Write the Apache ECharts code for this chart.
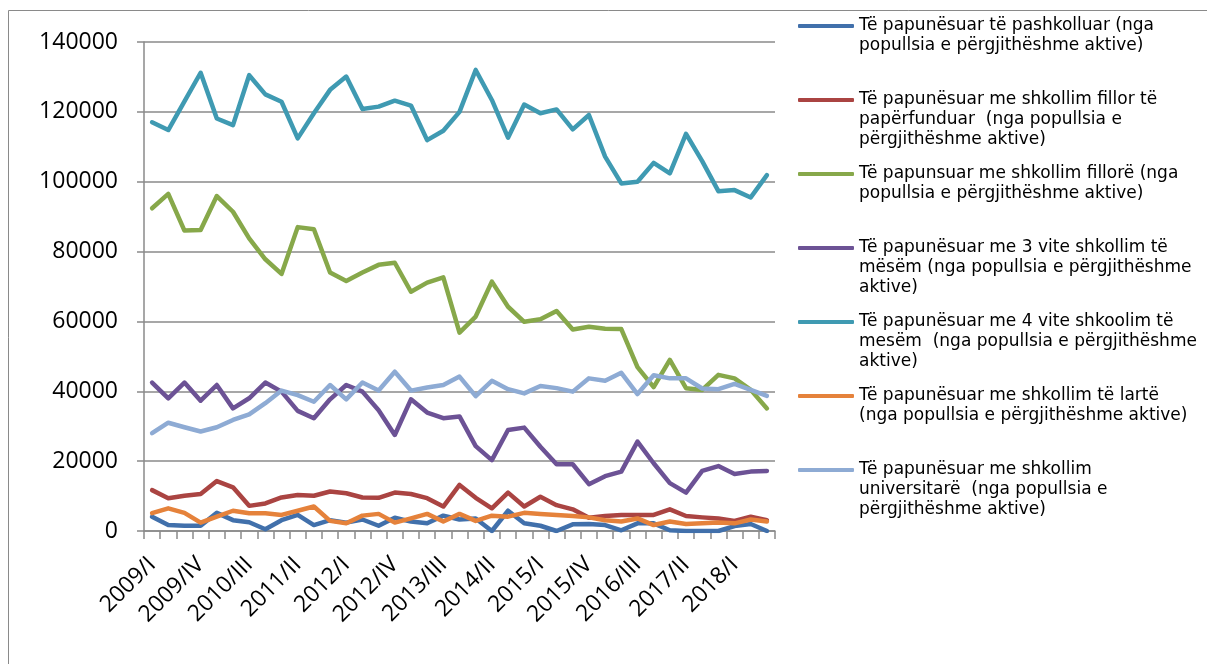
<!DOCTYPE html>
<html>
<head>
<meta charset="utf-8">
<title>Të papunësuar sipas arsimit</title>
<script src="https://cdn.jsdelivr.net/npm/echarts@6/dist/echarts.min.js"></script>
<style>
    html, body { margin: 0; padding: 0; background: #fff; }
    #mainChart { width: 1207px; height: 664px; }
</style>
</head>
<body>
<div id="mainChart"></div>
<script>
// ---- categories (quarters) ----
var quarters = [
    "2009/I", "2009/II", "2009/III", "2009/IV",
    "2010/I", "2010/II", "2010/III", "2010/IV",
    "2011/I", "2011/II", "2011/III", "2011/IV",
    "2012/I", "2012/II", "2012/III", "2012/IV",
    "2013/I", "2013/II", "2013/III", "2013/IV",
    "2014/I", "2014/II", "2014/III", "2014/IV",
    "2015/I", "2015/II", "2015/III", "2015/IV",
    "2016/I", "2016/II", "2016/III", "2016/IV",
    "2017/I", "2017/II", "2017/III", "2017/IV",
    "2018/I", "2018/II", "2018/III"
];

var yTicks = [0, 20000, 40000, 60000, 80000, 100000, 120000, 140000];

// ---- series values ----
var pashkolluar = [4100, 1700, 1500, 1500, 5200, 3100, 2500, 500, 3100, 4600, 1700, 3100, 2400, 3300, 1500, 3800, 2700, 2200, 4400, 3300,
    3600, 0, 5800, 2200, 1500, 0, 1900, 2000, 1700, 200, 2200, 2200, 200, 0, 0, 0, 1400, 2000, 0];
var fillorPaperfunduar = [11700, 9400, 10100, 10600, 14300, 12500, 7200, 7900, 9600, 10300, 10100, 11300, 10800, 9600, 9500, 11000, 10600, 9400, 7000, 13200,
    9500, 6500, 11000, 7000, 9800, 7400, 6200, 3800, 4300, 4600, 4600, 4600, 6200, 4300, 3900, 3600, 2900, 4100, 3100];
var fillore = [92400, 96500, 86000, 86200, 95900, 91400, 83800, 77800, 73600, 87000, 86400, 74000, 71600, 74000, 76200, 76800, 68500, 71100, 72600, 56800,
    61400, 71400, 64200, 59900, 60600, 63000, 57700, 58500, 57900, 57800, 46900, 41200, 49000, 40900, 40400, 44700, 43700, 40400, 35100];
var mesem3 = [42500, 38000, 42500, 37300, 41800, 35100, 38000, 42500, 39900, 34400, 32300, 37700, 41800, 39900, 34600, 27500, 37700, 33900, 32300, 32800,
    24300, 20300, 28900, 29600, 24100, 19100, 19100, 13400, 15700, 17000, 25600, 19400, 13700, 11000, 17200, 18600, 16300, 17000, 17200];
var mesem4 = [117000, 114800, 123000, 131200, 118100, 116200, 130500, 125000, 122900, 112400, 119600, 126300, 130100, 120800, 121500, 123200, 121800, 111900, 114600, 120000,
    132000, 123400, 112600, 122100, 119600, 120700, 115000, 119100, 107200, 99500, 100000, 105400, 102400, 113700, 105900, 97300, 97600, 95500, 101900];
var larte = [5100, 6500, 5200, 2400, 4100, 5800, 5100, 5100, 4600, 5800, 7000, 2900, 2200, 4400, 4900, 2400, 3600, 4900, 2700, 4900,
    2900, 4400, 4100, 5200, 4900, 4600, 4300, 3900, 3100, 2700, 3600, 1700, 2700, 2000, 2200, 2400, 2200, 3300, 2700];
var universitare = [28000, 31000, 29700, 28500, 29700, 31800, 33400, 36600, 40200, 38900, 37000, 41800, 37700, 42500, 40200, 45600, 40200, 41100, 41800, 44200,
    38600, 43000, 40600, 39400, 41500, 40900, 39900, 43700, 43000, 45300, 39200, 44600, 43700, 43700, 40800, 40600, 42100, 40400, 38700];

// ---- series names (legend text, with the original line breaks) ----
var seriesNames = [
    "Të papunësuar të pashkolluar (nga\npopullsia e përgjithëshme aktive)",
    "Të papunësuar me shkollim fillor të\npapërfunduar  (nga popullsia e\npërgjithëshme aktive)",
    "Të papunsuar me shkollim fillorë (nga\npopullsia e përgjithëshme aktive)",
    "Të papunësuar me 3 vite shkollim të\nmësëm (nga popullsia e përgjithëshme\naktive)",
    "Të papunësuar me 4 vite shkoolim të\nmesëm  (nga popullsia e përgjithëshme\naktive)",
    "Të papunësuar me shkollim të lartë\n(nga popullsia e përgjithëshme aktive)",
    "Të papunësuar me shkollim\nuniversitarë  (nga popullsia e\npërgjithëshme aktive)"
];

(function () {
    "use strict";

    var seriesData = [pashkolluar, fillorPaperfunduar, fillore, mesem3, mesem4, larte, universitare];
    var seriesColors = ["#4170ab", "#aa4442", "#87a84a", "#6c5295", "#3f9ab2", "#e5823b", "#8eabd4"];

    var AXIS_FONT = "'Open Sans', 'Noto Sans', sans-serif";
    var LEGEND_FONT = "'DejaVu Sans', sans-serif";
    var LINE_H = 20;
    var GRID_COLOR = "#8a8a8a";

    var chart = echarts.init(document.getElementById("mainChart"), null, { renderer: "canvas" });

    // 每个图例项单独一个 legend；前面补空行，让首行文字与线段对齐
    var legends = seriesNames.map(function (name, k) {
        var lines = name.split("\n").length;
        return {
            data: [name],
            orient: "vertical",
            left: 798,
            top: 26 + 74 * k - (2 * lines - 1) * LINE_H / 2,
            padding: 0,
            icon: "roundRect",
            itemWidth: 56,
            itemHeight: 4,
            selectedMode: false,
            formatter: function (n) {
                return new Array(lines).join("\n") + n;
            },
            textStyle: {
                fontFamily: LEGEND_FONT,
                fontSize: 17,
                color: "#000",
                lineHeight: LINE_H
            }
        };
    });

    var series = seriesNames.map(function (name, k) {
        return {
            name: name,
            type: "line",
            data: seriesData[k],
            symbol: "none",
            smooth: false,
            color: seriesColors[k],
            lineStyle: { color: seriesColors[k], width: 4.5, cap: "round", join: "round" }
        };
    });

    chart.setOption({
        backgroundColor: "#fff",
        animation: false,
        graphic: [{
            type: "rect",
            shape: { x: 8.5, y: 10.5, width: 1400, height: 900 },
            style: { fill: "none", stroke: "#8a8a8a", lineWidth: 1 },
            silent: true
        }],
        legend: legends,
        grid: { left: 144, right: 432, top: 42, bottom: 133, containLabel: false },
        xAxis: {
            type: "category",
            data: quarters,
            boundaryGap: true,
            axisLine: { lineStyle: { color: GRID_COLOR, width: 1.5 } },
            axisTick: { show: true, interval: 0, length: 8, inside: false, lineStyle: { color: GRID_COLOR, width: 1.5 } },
            axisLabel: {
                interval: 2,
                rotate: 45,
                margin: 30,
                color: "#000",
                fontFamily: AXIS_FONT,
                fontSize: 23
            },
            splitLine: { show: false }
        },
        yAxis: {
            type: "value",
            min: yTicks[0],
            max: yTicks[yTicks.length - 1],
            interval: yTicks[1] - yTicks[0],
            axisLine: { show: true, lineStyle: { color: GRID_COLOR, width: 1.5 } },
            axisTick: { show: true, length: 7, lineStyle: { color: GRID_COLOR, width: 1.5 } },
            axisLabel: {
                margin: 26,
                color: "#000",
                fontFamily: AXIS_FONT,
                fontSize: 23,
                formatter: function (v) { return String(v); }
            },
            splitLine: { show: true, lineStyle: { color: GRID_COLOR, width: 1.5 } }
        },
        series: series
    });
})();
</script>
</body>
</html>
